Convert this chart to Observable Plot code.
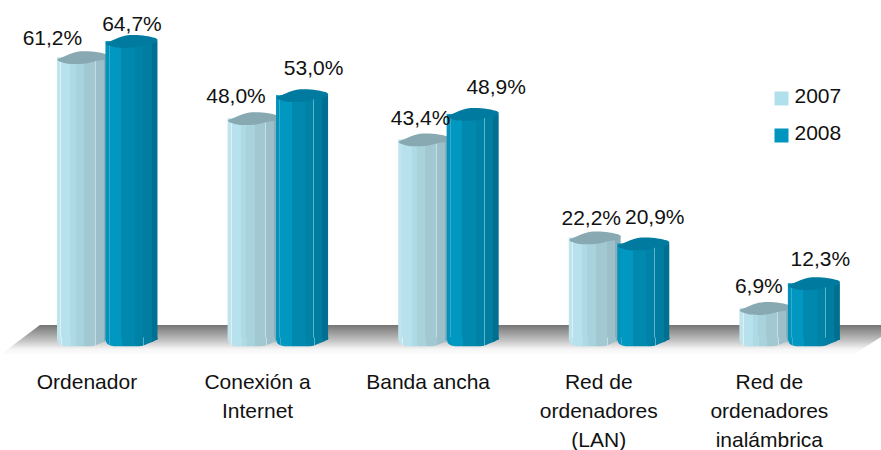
<!DOCTYPE html>
<html>
<head>
<meta charset="utf-8">
<script src="https://cdn.jsdelivr.net/npm/d3@7"></script>
<script src="https://cdn.jsdelivr.net/npm/@observablehq/plot@0.6"></script>
<style>html,body{margin:0;padding:0;background:#fff}svg{display:block}</style>
</head>
<body>
<div id="chart"></div>
<script>
const categories = ["Ordenador", "Conexión a\nInternet", "Banda ancha", "Red de\nordenadores\n(LAN)", "Red de\nordenadores\ninalámbrica"];
const years = ["2007", "2008"];
const values2007 = [61.2, 48.0, 43.4, 22.2, 6.9];
const values2008 = [64.7, 53.0, 48.9, 20.9, 12.3];

// manual label nudges (px), as placed in the reference
const nudge2007 = [[-31, -19], [-18, -22], [-4, -22], [-4, -20], [-7, -22]];
const nudge2008 = [[0, -17], [11, -27], [23, -27], [11, -27], [6, -24]];

// floor parallelogram, in scale units
const floorX = [-0.618, -0.384, 4.38, 4.546];
const floorTop = [-3.25, 3.25, 3.25, 3.25];
const floorBottom = [-3.25, -3.25, -3.25, 0.65];
const floor = floorX.map((x, i) => ({x, y1: floorBottom[i], y2: floorTop[i]}));

const fontFamily = "'Liberation Sans', Arial, sans-serif";
const fontSize = 21;
const ink = "#111111";

const stripes2007 = [[0, "#bfe4ed"], [.065, "#dcf0f5"], [.08, "#b6e1ed"], [.26, "#aedae5"], [.36, "#a8d2dc"], [.52, "#a2c8d2"], [.73, "#c8dde2"], [.745, "#9cbfc9"], [.9, "#8aafba"]];
const stripes2008 = [[0, "#0093bc"], [.065, "#3aa9cb"], [.08, "#0097c1"], [.3, "#0088ae"], [.56, "#0081a6"], [.715, "#5fb2ca"], [.73, "#007da0"], [.89, "#006f90"]];

function stepped(id, stripes) {
  const g = d3.create("svg:linearGradient").attr("id", id);
  stripes.forEach(([o, c], i) => {
    const end = i + 1 < stripes.length ? stripes[i + 1][0] : 1;
    g.append("stop").attr("offset", o).attr("stop-color", c);
    g.append("stop").attr("offset", end).attr("stop-color", c);
  });
  return g.node();
}

function defs() {
  const d = d3.create("svg:defs");
  d.append(() => stepped("g2007", stripes2007));
  d.append(() => stepped("g2008", stripes2008));
  const f = d.append("linearGradient").attr("id", "gFloor").attr("x2", 0).attr("y2", 1);
  f.append("stop").attr("offset", 0).attr("stop-color", "#757575");
  f.append("stop").attr("offset", .5).attr("stop-color", "#c0c0c0");
  f.append("stop").attr("offset", .8).attr("stop-color", "#f5f5f5");
  f.append("stop").attr("offset", 1).attr("stop-color", "#ffffff");
  return d.node();
}

// wobbly cap and foot outlines of the cylinders
const capOutline = [[-26, 2], [-20, -1], [-6, -6], [14, -5.5], [25.5, -2], [24, 1], [14, 3], [0, 6], [-18, 5.5]];
const capSymbol = {draw(ctx) { d3.line().curve(d3.curveCatmullRomClosed).context(ctx)(capOutline); }};
const footSymbol = {draw(ctx) {
  ctx.moveTo(-26, -3);
  ctx.lineTo(26, -3);
  ctx.bezierCurveTo(26, 0, 18, 2, 14, 4);
  ctx.bezierCurveTo(11, 5.5, 8, 5.8, 4, 5.8);
  ctx.lineTo(-16, 5.8);
  ctx.bezierCurveTo(-22, 5.5, -26, 4, -26, 0);
  ctx.closePath();
}};
const squareSymbol = {draw(ctx) { ctx.rect(-7, -7, 14, 14); }};

function cylinders(values, x1, x2, gradient, capColor) {
  const rows = values.map((v, i) => ({i, v, c: i + (x1 + x2) / 2, x1: i + x1, x2: i + x2}));
  return [
    Plot.rectY(rows, {x1: "x1", x2: "x2", y1: 0, y2: "v", fill: `url(#${gradient})`}),
    Plot.dot(rows, {x: "c", y: 0, r: 1, symbol: footSymbol, fill: `url(#${gradient})`}),
    Plot.dot(rows, {x: "c", y: "v", r: 1, symbol: capSymbol, fill: capColor})
  ];
}

function valueLabels(values, x1, x2, nudges) {
  return values.map((v, i) => Plot.text([v], {
    x: () => i + (x1 + x2) / 2,
    y: d => d,
    text: d => d.toFixed(1).replace(".", ",") + "%",
    dx: nudges[i][0],
    dy: nudges[i][1],
    fontSize,
    fill: ink
  }));
}

const chart = Plot.plot({
  width: 881,
  height: 450,
  marginTop: 0,
  marginLeft: 0,
  marginRight: 0,
  marginBottom: 110,
  style: {fontFamily, color: ink, background: "#fff", overflow: "visible"},
  x: {type: "linear", domain: [-0.618, 4.546], range: [0, 881]},
  y: {domain: [0, 70], range: [340, 16.6], axis: null},
  marks: [
    defs,
    Plot.areaY(floor, {x: "x", y1: "y1", y2: "y2", fill: "url(#gFloor)"}),
    ...cylinders(values2007, -0.284, 0.02, "g2007", "#88a9b2"),
    ...cylinders(values2008, 0, 0.305, "g2008", "#007a9e"),
    ...valueLabels(values2007, -0.284, 0.02, nudge2007),
    ...valueLabels(values2008, 0, 0.305, nudge2008),
    Plot.axisX(categories.map((_, i) => i), {
      tickSize: 0,
      tickPadding: 28,
      dx: -19,
      tickFormat: i => categories[i],
      label: null,
      fontSize,
      lineHeight: 1.38,
      fill: ink
    }),
    Plot.dot([0], {frameAnchor: "top-left", dx: 781, dy: 98, r: 1, symbol: squareSymbol, fill: "#b0e0ec"}),
    Plot.dot([0], {frameAnchor: "top-left", dx: 781, dy: 135, r: 1, symbol: squareSymbol, fill: "#0095bf"}),
    Plot.text([years[0]], {frameAnchor: "top-left", dx: 794, dy: 96, text: d => d, textAnchor: "start", lineAnchor: "middle", fontSize, fill: ink}),
    Plot.text([years[1]], {frameAnchor: "top-left", dx: 794, dy: 133, text: d => d, textAnchor: "start", lineAnchor: "middle", fontSize, fill: ink})
  ]
});
document.getElementById("chart").append(chart);
</script>
</body>
</html>
